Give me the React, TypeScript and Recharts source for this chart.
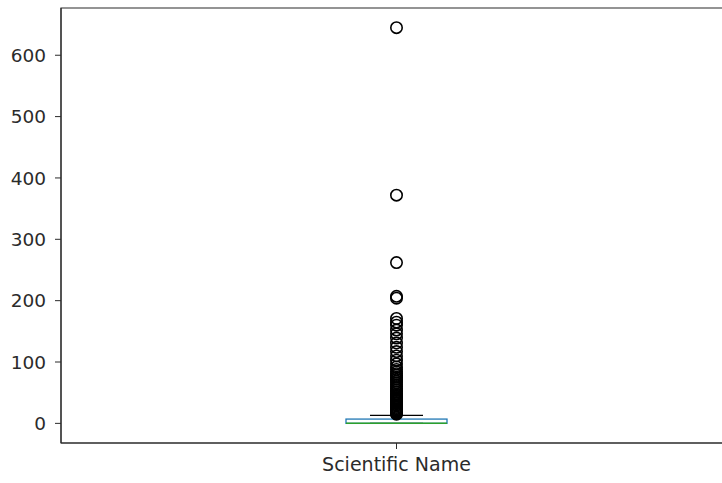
import { Bar, ComposedChart, ReferenceArea, Scatter, XAxis, YAxis } from "recharts";

const category = "Scientific Name";
const q1 = 0;
const q3 = 7;
const median = 0;
const whiskerLow = 0;
const whiskerHigh = 13;
const outliers = [
  645, 372, 262, 207, 204, 171, 165, 160, 152, 146, 139, 131, 124, 117, 110,
  103, 97, 92, 88, 84, 81, 78, 75, 72, 69, 66, 63, 60, 57, 54, 51, 48, 46, 44,
  42, 40, 38, 36, 34, 32, 30, 28, 26, 24, 22, 21, 20, 19, 18, 17, 16, 15,
];
const yTicks = [0, 100, 200, 300, 400, 500, 600];
const yDomain = [-32, 677];

const boxData = [
  {
    name: category,
    box: [q1, q3],
    upper: [q3, whiskerHigh],
    lower: [whiskerLow, q1],
    med: [median, median],
  },
];
const outlierData = outliers.map((v) => ({ name: category, value: v }));

const ink = "#2b2b2b";
const capHalf = 26.5;
const boxHalf = 50.5;

const UpperWhisker = (p: any) => {
  const cx = p.x + p.width / 2;
  return (
    <g>
      <line x1={cx} x2={cx} y1={p.y} y2={p.y + p.height} stroke="#000" strokeWidth={1.3} />
      <line x1={cx - capHalf} x2={cx + capHalf} y1={p.y} y2={p.y} stroke="#000" strokeWidth={1.3} />
    </g>
  );
};

const LowerWhisker = (p: any) => {
  const cx = p.x + p.width / 2;
  const yb = p.y + p.height;
  return (
    <g>
      <line x1={cx} x2={cx} y1={p.y} y2={yb} stroke="#000" strokeWidth={1.3} />
      <line x1={cx - capHalf} x2={cx + capHalf} y1={yb} y2={yb} stroke="#000" strokeWidth={1.3} />
    </g>
  );
};

const BoxShape = (p: any) => {
  const cx = p.x + p.width / 2;
  return (
    <rect
      x={cx - boxHalf}
      y={p.y}
      width={boxHalf * 2}
      height={p.height}
      fill="none"
      stroke="#1f77b4"
      strokeWidth={1.3}
    />
  );
};

const MedianShape = (p: any) => {
  const cx = p.x + p.width / 2;
  return (
    <line x1={cx - boxHalf} x2={cx + boxHalf} y1={p.y} y2={p.y} stroke="#2ca02c" strokeWidth={1.5} />
  );
};

const Ring = (p: any) => (
  <circle cx={p.cx} cy={p.cy} r={5.7} fill="none" stroke="#000" strokeWidth={1.6} />
);

export default function App() {
  return (
    <div
      style={{
        position: "absolute",
        left: 0,
        top: 0,
        width: 722,
        height: 483,
        overflow: "hidden",
        background: "#fff",
      }}
    >
      <ComposedChart
        width={740}
        height={483}
        data={boxData}
        margin={{ top: 8, right: 8, left: 0, bottom: 10 }}
        style={{ fontFamily: "DejaVu Sans" }}
      >
        <XAxis
          xAxisId="main"
          dataKey="name"
          type="category"
          allowDuplicatedCategory={false}
          height={30}
          tickSize={6}
          tickMargin={9}
          tick={{ fontSize: 19, fill: ink }}
          tickLine={{ stroke: ink }}
          axisLine={{ stroke: ink }}
        />
        <XAxis xAxisId="w1" dataKey="name" orientation="top" height={0} hide />
        <XAxis xAxisId="w2" dataKey="name" orientation="top" height={0} hide />
        <XAxis xAxisId="bx" dataKey="name" orientation="top" height={0} hide />
        <XAxis xAxisId="md" dataKey="name" orientation="top" height={0} hide />
        <YAxis
          type="number"
          domain={yDomain}
          ticks={yTicks}
          allowDataOverflow
          width={61}
          tickSize={6}
          tickMargin={9}
          tick={{ fontSize: 18.5, fill: ink }}
          tickLine={{ stroke: ink }}
          axisLine={{ stroke: ink }}
        />
        <ReferenceArea
          xAxisId="main"
          y1={yDomain[0]}
          y2={yDomain[1]}
          fill="none"
          stroke={ink}
          strokeWidth={1.2}
          ifOverflow="visible"
        />
        <Bar xAxisId="w1" dataKey="upper" barSize={101} shape={UpperWhisker} isAnimationActive={false} />
        <Bar xAxisId="w2" dataKey="lower" barSize={101} shape={LowerWhisker} isAnimationActive={false} />
        <Bar xAxisId="bx" dataKey="box" barSize={101} shape={BoxShape} isAnimationActive={false} />
        <Bar xAxisId="md" dataKey="med" barSize={101} shape={MedianShape} isAnimationActive={false} />
        <Scatter xAxisId="main" data={outlierData} dataKey="value" shape={Ring} isAnimationActive={false} />
      </ComposedChart>
    </div>
  );
}
